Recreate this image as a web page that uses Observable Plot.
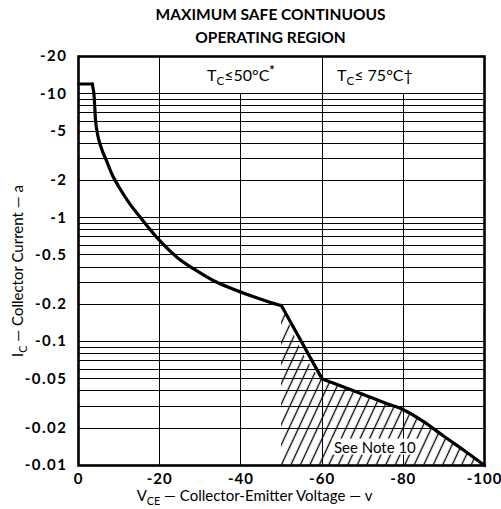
<!DOCTYPE html>
<html><head><meta charset="utf-8">
<script src="https://cdn.jsdelivr.net/npm/d3@7"></script>
<script src="https://cdn.jsdelivr.net/npm/@observablehq/plot@0.6"></script>
<style>
body{margin:0;background:#fff}
g[aria-label="y-axis tick label"] text{letter-spacing:1.5px}
g[aria-label="x-axis tick label"] text{letter-spacing:1px}
</style>
</head><body><div id="chart"></div>
<script>
// Safe operating curve (|V_CE| in volts, |I_C| in amperes; shown with negative sign)
// seg: pieces joined with sharp corners
const curveV = [0, 3.4,   3.4, 3.6, 3.8, 4.2, 4.6, 5.5, 6.9, 8.3, 10, 12.5, 15.3, 20, 24.3, 28.5, 33.3, 38, 42.4, 47.3, 50,   50, 60,   60, 65, 70, 76, 80, 85, 90, 95, 100];
const curveI = [12, 12,   12, 11, 10, 6.1, 4.9, 3.75, 2.88, 2.22, 1.76, 1.31, 1.0, 0.652, 0.478, 0.384, 0.31, 0.266, 0.235, 0.207, 0.195,   0.195, 0.05,   0.05, 0.0434, 0.0376, 0.0315, 0.0282, 0.0226, 0.0172, 0.0132, 0.01];
const curveSeg = [1, 1,   2, 2, 2, 2, 2, 2, 2, 2, 2, 2, 2, 2, 2, 2, 2, 2, 2, 2, 2,   3, 3,   4, 4, 4, 4, 4, 4, 4, 4, 4];
const hatchFromV = 50;

const yTicks = [20, 10, 5, 2, 1, 0.5, 0.2, 0.1, 0.05, 0.02, 0.01];
const xTicks = [0, 20, 40, 60, 80, 100];
const gridY = [0.01,0.02,0.03,0.04,0.05,0.06,0.07,0.08,0.09,
               0.1,0.2,0.3,0.4,0.5,0.6,0.7,0.8,0.9,
               1,2,3,4,5,6,7,8,9,10];
const gridXFull = [20, 60];
const gridXPart = [40, 80];

const titleLines = ["MAXIMUM SAFE CONTINUOUS", "OPERATING REGION"];
const regionLabels = [
  {v: 40, i: 14, t: "T_{C}≤50°C^{*}"},
  {v: 73, i: 14, t: "T_{C}≤ 75°C†"}
];
const noteLabels = [{v: 73, i: 0.0139, t: "See Note 10"}];
const xLabel = "V_{CE} — Collector-Emitter Voltage — v";
const yLabel = "I_{C} — Collector Current — a";

const curve = curveV.map((v, k) => ({v, i: curveI[k], s: curveSeg[k]}));
const hatch = curve.filter(d => d.v >= hatchFromV && d.s !== 2);
const neg = d => d === 0 ? "0" : "-" + d;

const chart = Plot.plot({
  width: 501, height: 509,
  marginTop: 56, marginBottom: 44, marginLeft: 78, marginRight: 17,
  style: {fontFamily: "Lato, 'DejaVu Sans', sans-serif", fontSize: "15px", fontWeight: "bold", color: "black", background: "white"},
  x: {domain: [0, 100], label: null},
  y: {type: "log", domain: [0.01, 20], label: null},
  marks: [
    Plot.ruleY(gridY, {y: d => d, stroke: "black", strokeWidth: 1, shapeRendering: "crispEdges"}),
    Plot.ruleX(gridXFull, {x: d => d, stroke: "black", strokeWidth: 1, shapeRendering: "crispEdges"}),
    Plot.ruleX(gridXPart, {x: d => d, y1: 0.01, y2: 10, stroke: "black", strokeWidth: 1, shapeRendering: "crispEdges"}),
    Plot.areaY(hatch, {x: "v", y1: 0.01, y2: "i", fill: "url(#hatch)", curve: "monotone-x"}),
    Plot.text(noteLabels, {x: "v", y: "i", text: "t", fontSize: 15, fontWeight: "normal"}),
    Plot.line(curve, {x: "v", y: "i", z: "s", stroke: "black", strokeWidth: 3.2, curve: "monotone-x"}),
    Plot.frame({stroke: "black", strokeWidth: 2.6}),
    Plot.axisX(xTicks, {text: d => neg(d), tickSize: 0, tickPadding: 8, label: null, fontSize: 15}),
    Plot.axisY(yTicks, {text: d => neg(d), tickSize: 0, tickPadding: 11, label: null, fontSize: 15}),
    Plot.text(regionLabels, {x: "v", y: "i", text: "t", fontSize: 16, fontWeight: "normal"}),
    Plot.text([titleLines.join("\n")], {frameAnchor: "top", lineAnchor: "bottom", dx: -11, dy: -14, lineHeight: 1.45, fontSize: 15.5}),
    Plot.text([xLabel], {frameAnchor: "bottom", dx: -27, dy: 35, fontSize: 15, fontWeight: "normal"}),
    Plot.text([yLabel], {frameAnchor: "left", rotate: -90, textAnchor: "middle", dx: -60, dy: 10, fontSize: 15, fontWeight: "normal"})
  ]
});
document.getElementById("chart").appendChild(chart);

const svg = d3.select(chart);
svg.insert("defs", ":first-child").html(
  '<pattern id="hatch" patternUnits="userSpaceOnUse" width="8.6" height="20" patternTransform="rotate(25)">' +
  '<line x1="4.3" y1="-2" x2="4.3" y2="22" stroke="black" stroke-width="1.3"/></pattern>');

// subscripts / superscripts
svg.selectAll("text").each(function() {
  const el = this;
  const s = el.textContent;
  if (!/[_^]\{/.test(s) || el.querySelector("tspan")) return;
  const parts = s.split(/(_\{[^}]*\}|\^\{[^}]*\})/).filter(p => p.length);
  el.textContent = "";
  let shift = 0;
  for (const p of parts) {
    const ts = document.createElementNS("http://www.w3.org/2000/svg", "tspan");
    let target = 0, txt = p;
    if (p.startsWith("_{")) { target = 4; txt = p.slice(2, -1); ts.setAttribute("font-size", "72%"); }
    else if (p.startsWith("^{")) { target = -6; txt = p.slice(2, -1); ts.setAttribute("font-size", "80%"); ts.setAttribute("font-weight", "bold"); }
    ts.setAttribute("dy", target - shift);
    shift = target;
    ts.textContent = txt;
    el.appendChild(ts);
  }
});

// white box behind the note
svg.selectAll("text").filter(function() { return this.textContent === "See Note 10"; }).each(function() {
  const b = this.getBBox();
  const r = document.createElementNS("http://www.w3.org/2000/svg", "rect");
  r.setAttribute("x", b.x - 2); r.setAttribute("y", b.y + 1);
  r.setAttribute("width", b.width + 4); r.setAttribute("height", b.height - 2);
  r.setAttribute("fill", "white");
  const t = this.getAttribute("transform");
  if (t) r.setAttribute("transform", t);
  this.parentNode.insertBefore(r, this);
});
</script>
</body></html>
